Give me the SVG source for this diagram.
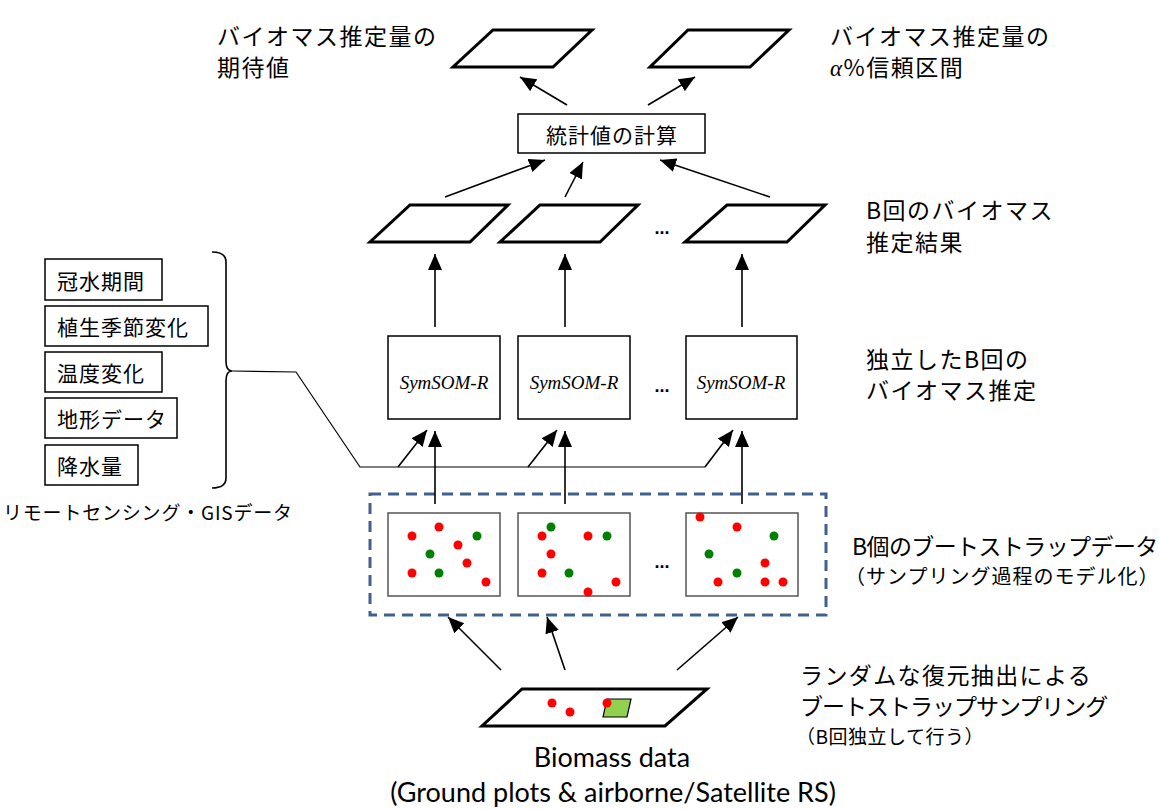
<svg xmlns="http://www.w3.org/2000/svg" width="1159" height="809" viewBox="0 0 1159 809">
<style>
.jp{font-family:"Noto Sans CJK JP","Noto Sans CJK SC",sans-serif;fill:#000}
.big{font-size:23px;letter-spacing:1.5px}
.mid{font-size:21px;letter-spacing:1px}
.para{fill:#fff;stroke:#000;stroke-width:3;stroke-linejoin:miter}
.box{fill:#fff;stroke:#000;stroke-width:1.5}
.sbox{fill:#fff;stroke:#555;stroke-width:1.5}
.sym{font-family:"Liberation Serif",serif;font-style:italic;font-size:19px;fill:#000}
.dots{font-family:"Liberation Sans",sans-serif;font-size:18px;font-weight:bold;fill:#000}
.con{stroke:#000;stroke-width:1.6;fill:none}
.thin{stroke:#000;stroke-width:1.2;fill:none}
.r{fill:#ff0000}
.g{fill:#008000}
.en{font-family:"Lato","Liberation Sans",sans-serif;font-size:27px;fill:#000}
</style>
<defs>
<marker id="ah" markerUnits="userSpaceOnUse" markerWidth="18" markerHeight="16" refX="16" refY="7" orient="auto">
<path d="M0,0 L16,7 L0,14 z" fill="#000"/>
</marker>
</defs>

<g id="label-expected">
<text class="jp big" x="217" y="45">バイオマス推定量の<tspan x="217" y="76">期待値</tspan></text>
</g>
<g id="label-ci">
<text class="jp big" x="830" y="45">バイオマス推定量の<tspan x="830" y="76"><tspan font-family="Liberation Serif" font-style="italic">α</tspan>%信頼区間</tspan></text>
</g>
<g id="out-expected"><polygon class="para" points="493,30 592,30 553,67 453,67"/></g>
<g id="out-ci"><polygon class="para" points="688,30 789,30 750,67 650,67"/></g>

<g id="stats">
<rect class="box" x="518" y="114" width="187" height="39" stroke-width="1"/>
<text class="jp mid" x="612" y="134" text-anchor="middle" dominant-baseline="central">統計値の計算</text>
</g>

<g id="results">
<polygon class="para" points="410,205 508,205 470,242 370,242"/>
<polygon class="para" points="540,205 638,205 600,242 500,242"/>
<text class="dots" x="662" y="234" text-anchor="middle">...</text>
<polygon class="para" points="727,205 825,205 787,242 685,242"/>
</g>
<g id="label-results">
<text class="jp big" x="866" y="219" letter-spacing="0.5px">B回のバイオマス<tspan x="866" y="251" letter-spacing="1.5px">推定結果</tspan></text>
</g>

<g id="symsom">
<rect class="box" x="388" y="336" width="112" height="83"/>
<text class="sym" x="444" y="389" text-anchor="middle">SymSOM-R</text>
<rect class="box" x="518" y="336" width="112" height="83"/>
<text class="sym" x="574" y="389" text-anchor="middle">SymSOM-R</text>
<text class="dots" x="662" y="392" text-anchor="middle">...</text>
<rect class="box" x="686" y="336" width="111" height="83"/>
<text class="sym" x="741" y="389" text-anchor="middle">SymSOM-R</text>
</g>
<g id="label-symsom">
<text class="jp big" x="866" y="368">独立したB回の<tspan x="866" y="399">バイオマス推定</tspan></text>
</g>

<g id="rs-inputs">
<rect class="box" x="45" y="259" width="117" height="41"/>
<text class="jp mid" x="57" y="280" dominant-baseline="central">冠水期間</text>
<rect class="box" x="45" y="306" width="163" height="40"/>
<text class="jp mid" x="57" y="326" dominant-baseline="central">植生季節変化</text>
<rect class="box" x="45" y="352" width="117" height="40"/>
<text class="jp mid" x="57" y="372" dominant-baseline="central">温度変化</text>
<rect class="box" x="45" y="398" width="132" height="40"/>
<text class="jp mid" x="57" y="418" dominant-baseline="central">地形データ</text>
<rect class="box" x="45" y="445" width="93" height="40"/>
<text class="jp mid" x="57" y="465" dominant-baseline="central">降水量</text>
<path class="con" d="M212,252 Q226,252 226,262 L226,361 Q226,371 232,371 Q226,371 226,381 L226,478 Q226,488 212,488"/>
<text class="jp" x="3" y="520" font-size="19px" letter-spacing="0.8px">リモートセンシング・GISデータ</text>
</g>

<g id="bootstrap">
<rect x="370" y="494" width="456" height="121" fill="none" stroke="#41608f" stroke-width="3" stroke-dasharray="11,7"/>
<rect class="sbox" x="388" y="513" width="112" height="83"/>
<rect class="sbox" x="518" y="513" width="112" height="83"/>
<rect class="sbox" x="686" y="513" width="112" height="83"/>
<text class="dots" x="662" y="568" text-anchor="middle">...</text>
<g class="r">
<circle cx="412" cy="536" r="4.5"/><circle cx="439" cy="527" r="4.5"/><circle cx="458" cy="545" r="4.5"/><circle cx="467" cy="563" r="4.5"/><circle cx="412" cy="573" r="4.5"/><circle cx="486" cy="582" r="4.5"/>
<circle cx="542" cy="536" r="4.5"/><circle cx="588" cy="536" r="4.5"/><circle cx="551" cy="554" r="4.5"/><circle cx="542" cy="573" r="4.5"/><circle cx="616" cy="582" r="4.5"/><circle cx="588" cy="592" r="4.5"/>
<circle cx="700" cy="517" r="4.5"/><circle cx="737" cy="527" r="4.5"/><circle cx="765" cy="563" r="4.5"/><circle cx="718" cy="582" r="4.5"/><circle cx="765" cy="582" r="4.5"/><circle cx="783" cy="582" r="4.5"/>
</g>
<g class="g">
<circle cx="477" cy="536" r="4.5"/><circle cx="430" cy="554" r="4.5"/><circle cx="439" cy="573" r="4.5"/>
<circle cx="551" cy="527" r="4.5"/><circle cx="607" cy="536" r="4.5"/><circle cx="569" cy="573" r="4.5"/>
<circle cx="774" cy="536" r="4.5"/><circle cx="709" cy="554" r="4.5"/><circle cx="737" cy="573" r="4.5"/>
</g>
</g>
<g id="label-bootstrap">
<text class="jp" x="852" y="555" font-size="23px" letter-spacing="-0.6px">B個のブートストラップデータ<tspan x="845" y="584" font-size="20px" letter-spacing="1px">（サンプリング過程のモデル化）</tspan></text>
</g>

<g id="biomass">
<polygon class="para" points="522,689 707,689 665,726 482,726"/>
<circle class="r" cx="552" cy="703" r="4.5"/>
<circle class="r" cx="570" cy="712" r="4.5"/>
<polygon points="607,699 631,699 627,717 603,717" fill="#92d050" stroke="#000" stroke-width="1.2"/>
<circle class="r" cx="607" cy="703" r="4.5"/>
<text class="en" x="612" y="767" text-anchor="middle">Biomass data<tspan x="613" y="802">(Ground plots &amp; airborne/Satellite RS)</tspan></text>
</g>
<g id="label-sampling">
<text class="jp" x="800" y="684" font-size="23px" letter-spacing="1.4px">ランダムな復元抽出による<tspan x="800" y="715" letter-spacing="-1px">ブートストラップサンプリング</tspan><tspan x="796" y="744" font-size="19px" letter-spacing="0.5px">（B回独立して行う）</tspan></text>
</g>

<g id="connectors">
<line class="con" x1="567" y1="105" x2="520" y2="77" marker-end="url(#ah)"/>
<line class="con" x1="648" y1="105" x2="695" y2="77" marker-end="url(#ah)"/>
<line class="con" x1="445" y1="197" x2="545" y2="160" marker-end="url(#ah)"/>
<line class="con" x1="565" y1="197" x2="583" y2="162" marker-end="url(#ah)"/>
<line class="con" x1="770" y1="197" x2="660" y2="160" marker-end="url(#ah)"/>
<line class="con" x1="435" y1="327" x2="435" y2="254" marker-end="url(#ah)"/>
<line class="con" x1="565" y1="327" x2="565" y2="254" marker-end="url(#ah)"/>
<line class="con" x1="742" y1="327" x2="742" y2="254" marker-end="url(#ah)"/>
<line class="con" x1="435" y1="504" x2="435" y2="431" marker-end="url(#ah)"/>
<line class="con" x1="565" y1="504" x2="565" y2="431" marker-end="url(#ah)"/>
<line class="con" x1="742" y1="504" x2="742" y2="431" marker-end="url(#ah)"/>
<polyline class="thin" points="232,371 296,372 360,467 705,467"/>
<line class="con" x1="398" y1="467" x2="427" y2="430" marker-end="url(#ah)"/>
<line class="con" x1="528" y1="467" x2="557" y2="430" marker-end="url(#ah)"/>
<line class="con" x1="705" y1="467" x2="733" y2="430" marker-end="url(#ah)"/>
<line class="con" x1="501" y1="670" x2="448" y2="617" marker-end="url(#ah)"/>
<line class="con" x1="565" y1="670" x2="547" y2="617" marker-end="url(#ah)"/>
<line class="con" x1="677" y1="670" x2="738" y2="617" marker-end="url(#ah)"/>
</g>
</svg>
